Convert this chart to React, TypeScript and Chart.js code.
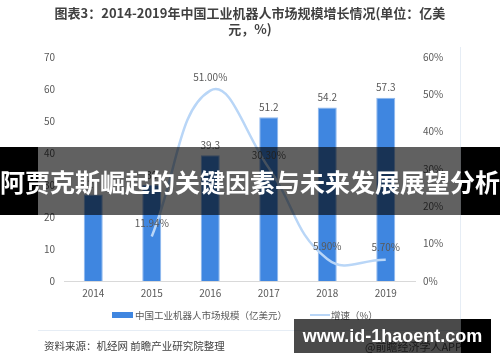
import React, { useEffect, useRef } from "react";
import { Chart, registerables } from "chart.js";

Chart.register(...registerables);

const years = ["2014", "2015", "2016", "2017", "2018", "2019"];
const marketSize = [27, 30, 39.3, 51.2, 54.2, 57.3];
const growth: (number | null)[] = [null, 11.94, 51.0, 30.3, 5.9, 5.7];
const leftTicks = [0, 10, 20, 30, 40, 50, 60, 70];
const rightTicks = [0, 10, 20, 30, 40, 50, 60];

const barLabel = "中国工业机器人市场规模（亿美元）";
const lineLabel = "增速（%）";
const titleLine1 = "图表3：2014-2019年中国工业机器人市场规模增长情况(单位：亿美";
const titleLine2 = "元，%)";
const sourceText = "资料来源：机经网 前瞻产业研究院整理";
const appText = "@前瞻经济学人APP";
const bannerText = "阿贾克斯崛起的关键因素与未来发展展望分析";
const watermarkText = "www.id-1haoent.com";

const FONT = '"Noto Sans CJK SC", "Noto Sans", sans-serif';
const GRAY = "#595959";
const BAR = "#3f86e0";
const LINE = "#b9d6f7";

const valueLabels = {
  id: "valueLabels",
  afterDatasetsDraw(chart: any) {
    const ctx = chart.ctx;
    ctx.save();
    ctx.font = `10px ${FONT}`;
    ctx.fillStyle = GRAY;
    ctx.textAlign = "center";
    ctx.textBaseline = "middle";
    chart.data.datasets.forEach((ds: any, di: number) => {
      const meta = chart.getDatasetMeta(di);
      meta.data.forEach((el: any, i: number) => {
        const v = ds.data[i];
        if (v == null) return;
        const txt =
          di === 0
            ? Number.isInteger(v)
              ? String(v)
              : v.toFixed(1)
            : v.toFixed(2) + "%";
        ctx.fillText(txt, el.x, el.y - (di === 0 ? 10 : 13));
      });
    });
    ctx.restore();
  },
};

export default function App() {
  const ref = useRef<HTMLCanvasElement>(null);

  useEffect(() => {
    if (!ref.current) return;
    const chart = new Chart(ref.current, {
      type: "bar",
      data: {
        labels: years,
        datasets: [
          {
            type: "bar",
            label: barLabel,
            data: marketSize,
            backgroundColor: BAR,
            borderColor: "#8fb8ee",
            borderWidth: 1,
            yAxisID: "y",
            categoryPercentage: 1,
            barPercentage: 0.325,
            order: 2,
          },
          {
            type: "line",
            label: lineLabel,
            data: growth,
            borderColor: LINE,
            backgroundColor: LINE,
            borderWidth: 2.5,
            pointRadius: 0,
            tension: 0.45,
            yAxisID: "y1",
            order: 1,
          } as any,
        ],
      },
      options: {
        responsive: false,
        animation: false,
        layout: { padding: { top: 57, bottom: 61, left: 0, right: 0 } },
        plugins: {
          legend: { display: false },
          title: { display: false },
          tooltip: { enabled: false },
        },
        scales: {
          x: {
            offset: true,
            grid: { display: false, drawTicks: false },
            border: { display: true, color: "#d9d9d9", width: 1 },
            ticks: { color: GRAY, font: { size: 10, family: FONT }, padding: 6 },
            afterFit: (s: any) => {
              s.height = 20;
            },
          },
          y: {
            position: "left",
            min: leftTicks[0],
            max: leftTicks[leftTicks.length - 1],
            grid: { display: false, drawTicks: false },
            border: { display: false },
            ticks: { stepSize: 10, color: GRAY, font: { size: 10, family: FONT }, padding: 9 },
            afterFit: (s: any) => {
              s.width = 64;
            },
          },
          y1: {
            position: "right",
            min: rightTicks[0],
            max: rightTicks[rightTicks.length - 1],
            grid: { display: false, drawTicks: false },
            border: { display: false },
            ticks: {
              stepSize: 10,
              color: GRAY,
              font: { size: 10, family: FONT },
              padding: 8,
              callback: (v: any) => v + "%",
            },
            afterFit: (s: any) => {
              s.width = 85;
            },
          },
        },
      },
      plugins: [valueLabels],
    });
    return () => chart.destroy();
  }, []);

  const abs = (style: React.CSSProperties): React.CSSProperties => ({ position: "absolute", ...style });

  return (
    <div
      style={{
        position: "fixed",
        left: 0,
        top: 0,
        width: 500,
        height: 362,
        background: "#ffffff",
        overflow: "hidden",
        fontFamily: FONT,
      }}
    >
      <canvas ref={ref} width={500} height={362} style={abs({ left: 0, top: 0, width: 500, height: 362 })} />
      {/* title */}
      <div style={abs({ left: 0, top: 6, width: 500, textAlign: "center", fontSize: 13, fontWeight: 700, color: "#404040", lineHeight: "14px" })}>
        {titleLine1}
      </div>
      <div style={abs({ left: 0, top: 22, width: 500, textAlign: "center", fontSize: 13, fontWeight: 700, color: "#404040", lineHeight: "14px" })}>
        {titleLine2}
      </div>
      {/* frame lines */}
      <div style={abs({ left: 460, top: 47, width: 1, height: 283, background: "#e6edf5" })} />
      <div style={abs({ left: 38, top: 330, width: 423, height: 1, background: "#e6edf5" })} />
      {/* legend */}
      <div style={abs({ left: 112, top: 312, width: 21, height: 6, background: BAR })} />
      <div style={abs({ left: 135, top: 308, fontSize: 9.5, color: GRAY, lineHeight: "14px", whiteSpace: "nowrap" })}>{barLabel}</div>
      <div style={abs({ left: 310, top: 314, width: 20, height: 2, background: LINE })} />
      <div style={abs({ left: 331, top: 308, fontSize: 9.5, color: GRAY, lineHeight: "14px", whiteSpace: "nowrap" })}>{lineLabel}</div>
      {/* source */}
      <div style={abs({ left: 44, top: 338, fontSize: 10.5, color: "#404040", lineHeight: "16px", whiteSpace: "nowrap" })}>{sourceText}</div>
      <div style={abs({ left: 365, top: 338, fontSize: 11, color: GRAY, lineHeight: "16px", whiteSpace: "nowrap" })}>{appText}</div>
      {/* banner */}
      <div style={abs({ left: 0, top: 147, width: 38, height: 68, background: "#000" })} />
      <div style={abs({ left: 38, top: 147, width: 423, height: 68, background: "rgba(0,0,0,0.62)" })} />
      <div style={abs({ left: 461, top: 147, width: 39, height: 68, background: "#000" })} />
      <div
        style={abs({
          left: 0,
          top: 147,
          width: 500,
          height: 68,
          lineHeight: "68px",
          textAlign: "center",
          color: "#fff",
          fontWeight: 700,
          fontSize: 25,
          whiteSpace: "nowrap",
        })}
      >
        {bannerText}
      </div>
      {/* watermark */}
      <div style={abs({ left: 294, top: 319, width: 167, height: 34, background: "rgba(0,0,0,0.71)" })} />
      <div style={abs({ left: 461, top: 319, width: 30, height: 34, background: "#000" })} />
      <div
        style={abs({
          left: 294,
          top: 319,
          width: 197,
          height: 34,
          lineHeight: "34px",
          textAlign: "center",
          color: "#fff",
          fontWeight: 700,
          fontSize: 18,
          fontFamily: '"Liberation Sans", Arial, sans-serif',
          whiteSpace: "nowrap",
        })}
      >
        {watermarkText}
      </div>
    </div>
  );
}
